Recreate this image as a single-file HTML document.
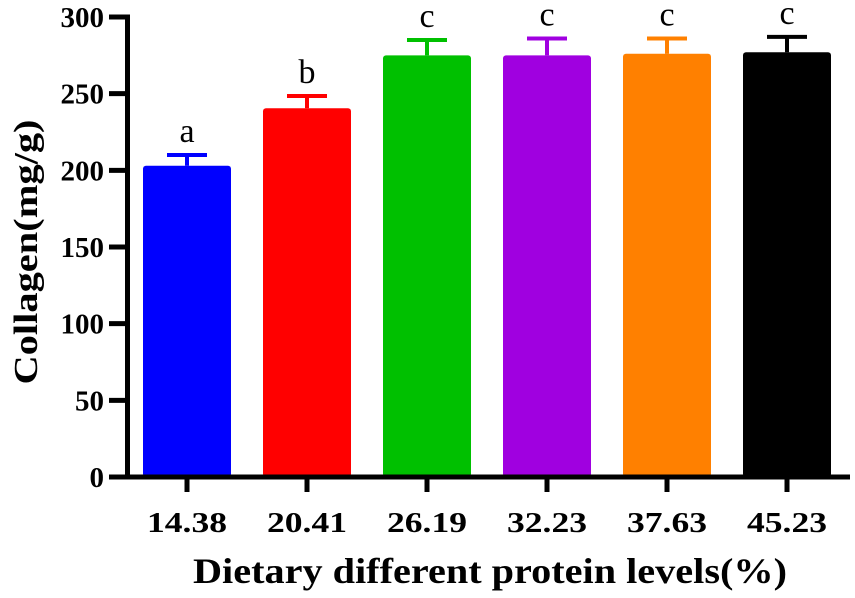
<!DOCTYPE html>
<html><head><meta charset="utf-8"><style>
html,body{margin:0;padding:0;background:#fff;}
svg{display:block;font-family:"Liberation Serif",serif;font-weight:bold;}
</style></head><body>
<svg id="chart" width="855" height="598" viewBox="0 0 855 598" xmlns="http://www.w3.org/2000/svg">
<g id="marks"></g>
</svg>
<script>
const categories = ["14.38","20.41","26.19","32.23","37.63","45.23"];
const values = [203, 240.5, 275, 275, 276, 277];
const errors = [7, 8, 10, 11, 10, 10];
const letters = ["a","b","c","c","c","c"];
const colors = ["#0000ff","#ff0000","#00c000","#a000e0","#ff8000","#000000"];
const yTicks = [0,50,100,150,200,250,300];

const NS="http://www.w3.org/2000/svg";
const g=document.getElementById('marks');
const y0=477, y300=17;
function yScale(v){return y0-(v/300)*(y0-y300);}
function xCenter(i){return 187+i*120;}
function mk(tag,attrs,parent){const e=document.createElementNS(NS,tag);for(const k in attrs)e.setAttribute(k,attrs[k]);(parent||g).appendChild(e);return e;}

categories.forEach((c,i)=>{
  const cx=xCenter(i), top=yScale(values[i]), et=yScale(values[i]+errors[i]);
  const b=mk('rect',{x:cx-44,y:top,width:88,height:y0-top,fill:colors[i],rx:3});
  
  
  const el=mk('line',{x1:cx,x2:cx,y1:et,y2:top,stroke:colors[i],'stroke-width':4});
  
  
  const cap=mk('line',{x1:cx-20,x2:cx+20,y1:et,y2:et,stroke:colors[i],'stroke-width':4});
  
  
  const lt=mk('text',{x:cx,y:et-13,'text-anchor':'middle','font-size':34,'font-weight':'normal',fill:'#000'});
  lt.textContent=letters[i];
  
  
  const tk=mk('line',{x1:cx,x2:cx,y1:y0,y2:492,stroke:'#000','stroke-width':5});
  
  
  const tl=mk('text',{x:cx,y:532,'text-anchor':'middle','font-size':29,textLength:80,lengthAdjust:'spacingAndGlyphs',fill:'#000'});
  tl.textContent=c;
  
  
});
yTicks.forEach(v=>{
  const y=yScale(v);
  const t=mk('line',{x1:109,x2:128,y1:y,y2:y,stroke:'#000','stroke-width':5});
  
  
  const l=mk('text',{x:104,y:y+10,'text-anchor':'end','font-size':29,fill:'#000'});
  l.textContent=v;
  
  
});
const ya=mk('line',{x1:127.5,x2:127.5,y1:14.5,y2:479.5,stroke:'#000','stroke-width':5});


const xa=mk('line',{x1:125,x2:850,y1:477,y2:477,stroke:'#000','stroke-width':5});


const xt=mk('text',{x:490,y:583,'text-anchor':'middle','font-size':36,textLength:594,lengthAdjust:'spacingAndGlyphs',fill:'#000'});
xt.textContent='Dietary different protein levels(%)';


const yt=mk('text',{x:0,y:0,'text-anchor':'middle','font-size':34,textLength:265,lengthAdjust:'spacingAndGlyphs',fill:'#000',transform:'translate(37,252) rotate(-90)'});
yt.textContent='Collagen(mg/g)';


</script>
</body></html>
